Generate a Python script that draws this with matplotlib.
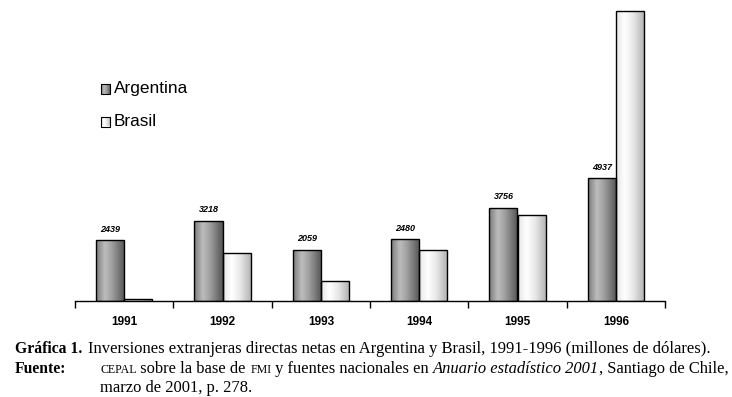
import numpy as np
import matplotlib
matplotlib.use("Agg")
import matplotlib.pyplot as plt
from matplotlib.colors import LinearSegmentedColormap
from matplotlib.patches import Rectangle

years = ["1991", "1992", "1993", "1994", "1995", "1996"]
argentina = [2439, 3218, 2059, 2480, 3756, 4937]
brasil = [89, 1924, 801, 2035, 3475, 11667]

W, H = 732, 397
fig = plt.figure(figsize=(W / 100, H / 100), dpi=100)
ax = fig.add_axes([75 / W, 1 - 301 / H, 590 / W, 301 / H])

x = np.arange(len(years))
bw = 0.285
cm_arg = LinearSegmentedColormap.from_list(
    "arg", [(0, "#7a7a7a"), (0.3, "#bdbdbd"), (0.55, "#a0a0a0"), (1, "#555555")])
cm_bra = LinearSegmentedColormap.from_list(
    "bra", [(0, "#e6e6e6"), (0.3, "#ffffff"), (0.6, "#e8e8e8"), (1, "#b0b0b0")])

grad = np.linspace(0, 1, 64).reshape(1, -1)
bars_a = ax.bar(x - bw / 2, argentina, bw, facecolor="none", edgecolor="black", linewidth=1.0, zorder=3)
bars_b = ax.bar(x + bw / 2, brasil, bw, facecolor="none", edgecolor="black", linewidth=1.0, zorder=3)
for bars, cmap in ((bars_a, cm_arg), (bars_b, cm_bra)):
    for b in bars:
        x0, y0 = b.get_x(), b.get_y()
        im = ax.imshow(grad, cmap=cmap, aspect="auto", extent=(x0, x0 + b.get_width(), y0, y0 + b.get_height()),
                       zorder=2, interpolation="bicubic")
        im.set_clip_path(b)

for xi, v in zip(x, argentina):
    ax.text(xi - bw / 2, v + 260, str(v), ha="center", va="bottom", fontsize=6.5,
            fontweight="bold", fontstyle="italic", family="Liberation Sans")

ax.set_xlim(-0.5, len(years) - 0.5)
ax.set_ylim(0, 12100)
for s in ("left", "right", "top"):
    ax.spines[s].set_visible(False)
ax.spines["bottom"].set_linewidth(1.0)
ax.set_yticks([])
ax.set_xticks(np.arange(-0.5, len(years), 1.0))
ax.set_xticklabels([])
ax.tick_params(axis="x", direction="out", length=5, width=1)
for xi, yr in zip(x, years):
    ax.text(xi, -21 / 301, yr, transform=ax.get_xaxis_transform(), ha="center", va="center",
            fontsize=8.5, fontweight="bold", family="Liberation Sans")

# legend
lax = fig.add_axes([0, 0, 1, 1], facecolor="none")
lax.set_axis_off()
lax.set_xlim(0, W)
lax.set_ylim(H, 0)
for (yy, label, cmap) in ((89, "Argentina", cm_arg), (121.5, "Brasil", cm_bra)):
    r = Rectangle((100.5, yy - 5), 9.5, 10, facecolor="none", edgecolor="black", linewidth=0.8, zorder=3)
    lax.add_patch(r)
    im = lax.imshow(grad, cmap=cmap, aspect="auto", extent=(100.5, 110, yy + 5, yy - 5), zorder=2)
    im.set_clip_path(r)
    lax.text(114, yy, label, ha="left", va="center", fontsize=12.4, family="Liberation Sans")
lax.set_xlim(0, W)
lax.set_ylim(H, 0)

# caption
fig.canvas.draw()
renderer = fig.canvas.get_renderer()
serif = "Liberation Serif"
fs = 12
sc = 8.6


def run(pieces, x0, ypx):
    xcur = x0
    for txt, kw in pieces:
        t = fig.text(xcur / W, 1 - ypx / H, txt, ha="left", va="baseline", family=serif, **kw)
        bb = t.get_window_extent(renderer)
        xcur = bb.x1
    return xcur


fig.text(15 / W, 1 - 353 / H, "Gráfica 1.", ha="left", va="baseline", family=serif, fontsize=11.3, fontweight="bold")
run([("Inversiones extranjeras directas netas en Argentina y Brasil, 1991-1996 (millones de dólares).",
      dict(fontsize=fs))], 88, 353)
fig.text(15 / W, 1 - 373 / H, "Fuente:", ha="left", va="baseline", family=serif, fontsize=11.3, fontweight="bold")
run([("CEPAL", dict(fontsize=sc)), (" sobre la base de ", dict(fontsize=11.9)), ("FMI", dict(fontsize=sc)),
     (" y fuentes nacionales en ", dict(fontsize=11.9)),
     ("Anuario estadístico 2001", dict(fontsize=11.9, fontstyle="italic")),
     (", Santiago de Chile,", dict(fontsize=11.9))], 100, 373)
run([("marzo de 2001, p. 278.", dict(fontsize=11.9))], 100, 392)

fig.savefig("out.png", dpi=100)
